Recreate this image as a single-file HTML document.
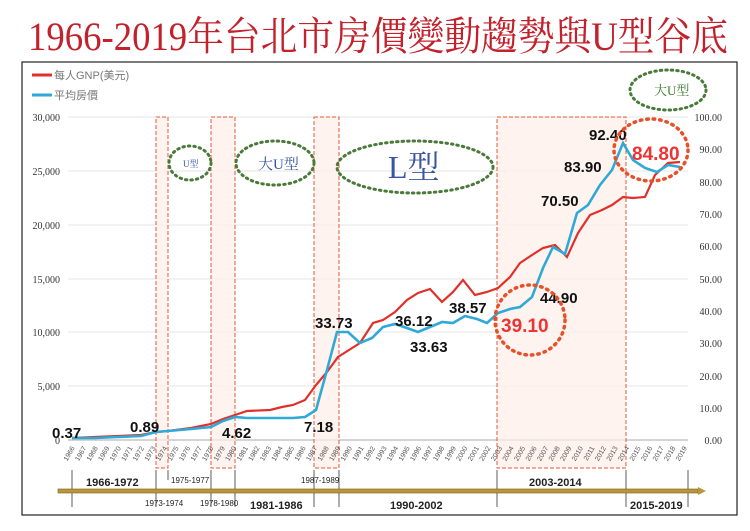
<!DOCTYPE html>
<html><head><meta charset="utf-8"><style>
html,body{margin:0;padding:0;background:#fff;}
svg{display:block;}
</style></head><body>
<svg width="750" height="531" viewBox="0 0 750 531" xmlns="http://www.w3.org/2000/svg" font-family="Liberation Sans, Noto Sans CJK TC, sans-serif">
<text x="28" y="50" font-family="Liberation Serif, Noto Serif CJK SC, serif" font-size="40" fill="#c3222c" textLength="700" lengthAdjust="spacingAndGlyphs">1966-2019年台北市房價變動趨勢與U型谷底</text>
<rect x="22" y="62" width="715" height="453" fill="#fff" stroke="#222" stroke-width="1.2"/>
<line x1="32" y1="75" x2="52" y2="75" stroke="#e0302a" stroke-width="3"/>
<text x="54" y="79" font-size="11" fill="#777">每人GNP(美元)</text>
<line x1="32" y1="95" x2="52" y2="95" stroke="#2fa9d6" stroke-width="3"/>
<text x="54" y="99" font-size="11" fill="#777">平均房價</text>
<g stroke="#e6e6e6" stroke-width="1">
<line x1="68" y1="117" x2="688" y2="117"/><line x1="68" y1="171" x2="688" y2="171"/>
<line x1="68" y1="225" x2="688" y2="225"/><line x1="68" y1="279" x2="688" y2="279"/>
<line x1="68" y1="332" x2="688" y2="332"/><line x1="68" y1="386" x2="688" y2="386"/>
</g>
<line x1="68" y1="440" x2="688" y2="440" stroke="#aaa"/>
<g fill="#fdeee8" fill-opacity="0.7" stroke="#e05a3a" stroke-dasharray="4,2" stroke-width="1">
<rect x="156" y="117" width="12" height="351"/>
<rect x="211" y="117" width="24" height="351"/>
<rect x="314" y="117" width="25" height="351"/>
<rect x="497" y="117" width="129" height="351"/>
</g>
<g font-family="Liberation Serif, serif" font-size="10" fill="#333" text-anchor="end">
<text x="60" y="121">30,000</text><text x="60" y="175">25,000</text><text x="60" y="229">20,000</text>
<text x="60" y="283">15,000</text><text x="60" y="336">10,000</text><text x="60" y="390">5,000</text><text x="60" y="444">0</text>
</g>
<g font-family="Liberation Serif, serif" font-size="10" fill="#333" text-anchor="end">
<text x="722" y="121">100.00</text><text x="722" y="153">90.00</text><text x="722" y="186">80.00</text>
<text x="722" y="218">70.00</text><text x="722" y="250">60.00</text><text x="722" y="283">50.00</text>
<text x="722" y="315">40.00</text><text x="722" y="347">30.00</text><text x="722" y="380">20.00</text>
<text x="722" y="412">10.00</text><text x="722" y="444">0.00</text>
</g>
<g font-size="7" fill="#555" text-anchor="end">
<text transform="translate(75,448) rotate(-60)">1966</text>
<text transform="translate(86.6,448) rotate(-60)">1967</text>
<text transform="translate(98.1,448) rotate(-60)">1968</text>
<text transform="translate(109.7,448) rotate(-60)">1969</text>
<text transform="translate(121.2,448) rotate(-60)">1970</text>
<text transform="translate(132.8,448) rotate(-60)">1971</text>
<text transform="translate(144.3,448) rotate(-60)">1972</text>
<text transform="translate(155.9,448) rotate(-60)">1973</text>
<text transform="translate(167.4,448) rotate(-60)">1974</text>
<text transform="translate(179,448) rotate(-60)">1975</text>
<text transform="translate(190.5,448) rotate(-60)">1976</text>
<text transform="translate(202.1,448) rotate(-60)">1977</text>
<text transform="translate(213.6,448) rotate(-60)">1978</text>
<text transform="translate(225.2,448) rotate(-60)">1979</text>
<text transform="translate(236.7,448) rotate(-60)">1980</text>
<text transform="translate(248.3,448) rotate(-60)">1981</text>
<text transform="translate(259.8,448) rotate(-60)">1982</text>
<text transform="translate(271.4,448) rotate(-60)">1983</text>
<text transform="translate(282.9,448) rotate(-60)">1984</text>
<text transform="translate(294.5,448) rotate(-60)">1985</text>
<text transform="translate(306,448) rotate(-60)">1986</text>
<text transform="translate(317.6,448) rotate(-60)">1987</text>
<text transform="translate(329.1,448) rotate(-60)">1988</text>
<text transform="translate(340.7,448) rotate(-60)">1989</text>
<text transform="translate(352.2,448) rotate(-60)">1990</text>
<text transform="translate(363.8,448) rotate(-60)">1991</text>
<text transform="translate(375.3,448) rotate(-60)">1992</text>
<text transform="translate(386.9,448) rotate(-60)">1993</text>
<text transform="translate(398.4,448) rotate(-60)">1994</text>
<text transform="translate(410,448) rotate(-60)">1995</text>
<text transform="translate(421.5,448) rotate(-60)">1996</text>
<text transform="translate(433.1,448) rotate(-60)">1997</text>
<text transform="translate(444.6,448) rotate(-60)">1998</text>
<text transform="translate(456.2,448) rotate(-60)">1999</text>
<text transform="translate(467.7,448) rotate(-60)">2000</text>
<text transform="translate(479.3,448) rotate(-60)">2001</text>
<text transform="translate(490.8,448) rotate(-60)">2002</text>
<text transform="translate(502.4,448) rotate(-60)">2003</text>
<text transform="translate(513.9,448) rotate(-60)">2004</text>
<text transform="translate(525.5,448) rotate(-60)">2005</text>
<text transform="translate(537,448) rotate(-60)">2006</text>
<text transform="translate(548.6,448) rotate(-60)">2007</text>
<text transform="translate(560.1,448) rotate(-60)">2008</text>
<text transform="translate(571.7,448) rotate(-60)">2009</text>
<text transform="translate(583.2,448) rotate(-60)">2010</text>
<text transform="translate(594.8,448) rotate(-60)">2011</text>
<text transform="translate(606.3,448) rotate(-60)">2012</text>
<text transform="translate(617.9,448) rotate(-60)">2013</text>
<text transform="translate(629.4,448) rotate(-60)">2014</text>
<text transform="translate(641,448) rotate(-60)">2015</text>
<text transform="translate(652.5,448) rotate(-60)">2016</text>
<text transform="translate(664.1,448) rotate(-60)">2017</text>
<text transform="translate(675.6,448) rotate(-60)">2018</text>
<text transform="translate(687.2,448) rotate(-60)">2019</text>
</g>
<polyline fill="none" stroke="#e0302a" stroke-width="2.2" points="72,438 95,437 118,436 141,435 156,432 168,431 191,428 211,424 223,419 235,415 247,411 270,410 282,407 293,405 305,400 316,385 327,372 338,357 349,350 360,343 373,323 383,320 395,312 407,300 418,293 430,289 442,302 453,292 463,280 475,295 487,292 498,288 510,277 520,263 532,255 543,248 555,245 567,257 578,233 590,215 602,210 612,205 623,197 633,198 645,197 655,175 668,163 680,162"/>
<polyline fill="none" stroke="#2fa9d6" stroke-width="2.6" points="72,438 95,438 118,437 141,436 156,432 168,431 191,429 211,427 223,421 235,417 247,418 270,418 293,418 305,417 316,410 327,370 337,332 348,332 360,343 372,338 383,327 395,324 407,328 418,332 430,327 442,322 453,323 465,316 477,319 487,323 498,313 510,309 520,307 532,297 543,268 553,247 565,254 577,213 588,205 600,185 612,170 623,143 633,160 645,168 657,172 668,165 680,167"/>
<g font-weight="bold" font-size="15" fill="#111">
<text x="52" y="438">0.37</text><text x="130" y="432">0.89</text><text x="222" y="438">4.62</text>
<text x="304" y="432">7.18</text><text x="315" y="328">33.73</text><text x="395" y="326">36.12</text>
<text x="410" y="352">33.63</text><text x="449" y="313">38.57</text><text x="540" y="303">44.90</text>
<text x="541" y="206">70.50</text><text x="564" y="172">83.90</text><text x="589" y="140">92.40</text>
</g>
<text x="501" y="332" font-size="19" font-weight="bold" fill="#e33">39.10</text>
<text x="632" y="160" font-size="19" font-weight="bold" fill="#e33">84.80</text>
<g fill="none" stroke="#4a7a3a" stroke-width="3" stroke-dasharray="1.5,4" stroke-linecap="round">
<ellipse cx="190" cy="163" rx="21" ry="17"/>
<ellipse cx="275" cy="163" rx="39" ry="22"/>
<ellipse cx="415" cy="167" rx="78" ry="26"/>
<ellipse cx="668" cy="90" rx="38" ry="20"/>
</g>
<g fill="none" stroke="#e8502a" stroke-width="3.5" stroke-dasharray="1.5,5" stroke-linecap="round">
<circle cx="530" cy="320" r="35"/>
<ellipse cx="651" cy="150" rx="37" ry="31"/>
</g>
<g font-family="Liberation Serif, Noto Serif CJK SC, serif" fill="#3a55a0">
<text x="183" y="167" font-size="9">U型</text>
<text x="258" y="169" font-size="15">大U型</text>
<text x="388" y="178" font-size="32">L型</text>
<text x="654" y="95" font-size="13" fill="#3a7a2a">大U型</text>
</g>
<g stroke="#333" stroke-width="0.8">
<line x1="72" y1="470" x2="72" y2="507"/><line x1="156" y1="470" x2="156" y2="507"/>
<line x1="168" y1="470" x2="168" y2="480"/><line x1="211" y1="470" x2="211" y2="507"/>
<line x1="235" y1="470" x2="235" y2="507"/><line x1="314" y1="470" x2="314" y2="507"/>
<line x1="339" y1="470" x2="339" y2="507"/><line x1="497" y1="470" x2="497" y2="507"/>
<line x1="626" y1="470" x2="626" y2="507"/><line x1="688" y1="470" x2="688" y2="507"/>
</g>
<rect x="58" y="489" width="640" height="4" fill="#b8963a" stroke="#7a5f20" stroke-width="0.6"/>
<polygon points="698,487 706,491 698,495" fill="#b8963a"/>
<g font-size="11" font-weight="bold" fill="#222">
<text x="86" y="486">1966-1972</text><text x="529" y="486">2003-2014</text>
<text x="250" y="509">1981-1986</text><text x="390" y="509">1990-2002</text><text x="630" y="509">2015-2019</text>
</g>
<g font-size="8" fill="#222">
<text x="171" y="483">1975-1977</text><text x="301" y="483">1987-1989</text>
<text x="145" y="506">1973-1974</text><text x="200" y="506">1978-1980</text>
</g>
</svg>
</body></html>
